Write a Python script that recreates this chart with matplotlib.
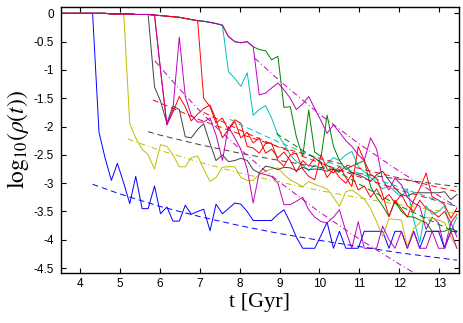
import matplotlib.pyplot as plt

plt.rcParams["mathtext.fontset"] = "stix"
plt.rcParams["axes.unicode_minus"] = False

# snapshot times (Gyr)
t = [3.55, 3.70, 3.86, 4.01, 4.17, 4.32, 4.48, 4.63, 4.79, 4.94,
     5.10, 5.25, 5.40, 5.56, 5.71, 5.87, 6.02, 6.18, 6.33, 6.49,
     6.64, 6.79, 6.95, 7.10, 7.26, 7.41, 7.57, 7.72, 7.88, 8.03,
     8.19, 8.34, 8.49, 8.65, 8.80, 8.96, 9.11, 9.27, 9.42, 9.58,
     9.73, 9.88, 10.04, 10.19, 10.35, 10.50, 10.66, 10.81, 10.97, 11.12,
     11.28, 11.43, 11.58, 11.74, 11.89, 12.05, 12.20, 12.36, 12.51, 12.67,
     12.82, 12.98, 13.13, 13.29, 13.44]

# shared early track (before each run drops)
top = [0, 0, 0, 0, 0, 0, 0, 0, -0.01, -0.01,
       -0.01, -0.01, -0.02, -0.02, -0.02, -0.03, -0.04, -0.05, -0.06, -0.07,
       -0.09, -0.11, -0.13, -0.14, -0.16, -0.18, -0.21, -0.41, -0.5, -0.52,
       -0.5, -0.59, -0.64, -0.66, -0.82, -0.76]

blue = top[:6] + [
    -2.1, -2.55, -2.95, -2.65, -3.0, -3.36, -2.88, -3.45, -3.45, -3.05,
    -3.54, -3.42, -3.67, -3.67, -3.39, -3.55, -3.5, -3.46, -3.84, -3.37,
    -3.54, -3.45, -3.35, -3.37, -3.5, -3.66, -3.66, -3.66, -3.66, -3.55,
    -3.47, -3.7, -3.95, -4.15, -4.15, -4.15, -3.92, -3.69, -4.15, -3.85,
    -4.15, -4.15, -4.15, -3.85, -3.85, -3.85, -3.85, -4.15, -3.85, -3.85,
    -4.15, -3.85, -4.15, -3.85, -3.85, -3.85, -4.15, -3.85, -3.85]

yellow = top[:11] + [
    -1.95, -2.2, -2.4, -2.5, -2.75,
    -2.32, -2.35, -2.5, -2.71, -2.71, -2.55, -2.52, -2.75, -2.97, -2.9,
    -2.72, -2.71, -2.71, -2.9, -2.95, -2.95, -2.85, -2.79, -2.75, -2.73,
    -2.85, -2.94, -3.0, -3.06, -2.97, -3.02, -3.06, -3.1, -3.25, -3.41,
    -3.15, -3.12, -3.2, -3.28, -3.45, -3.68, -3.94, -3.63, -3.64, -3.65,
    -4.12, -3.8, -3.7, -3.6, -3.62, -3.65, -3.7, -3.95, -4.15]

gray = top[:15] + [
    -1.3,
    -1.55, -1.94, -1.64, -1.7, -2.18, -2.2, -2.05, -1.95, -2.3, -2.6,
    -2.5, -2.62, -2.6, -2.56, -2.6, -2.76, -2.82, -2.7, -2.72, -2.76,
    -2.72, -2.73, -2.78, -2.72, -2.76, -2.75, -2.76, -2.79, -2.74, -2.8,
    -2.7, -2.82, -2.85, -2.9, -2.97, -2.85, -2.79, -2.95, -3.09, -3.2,
    -3.23, -3.17, -3.17, -3.17, -3.17, -3.17, -3.15, -3.29, -3.2]

magenta_a = top[:16] + [
    -1.0, -1.97, -1.7, -0.42, -1.47, -1.8, -1.92, -1.92, -1.85, -2.15,
    -2.6, -2.0, -2.2, -2.4, -2.75, -3.35, -2.82, -2.85, -2.88, -3.0,
    -3.38, -3.38, -3.32, -3.25, -3.47, -3.6, -3.68, -3.7, -3.6, -3.47,
    -3.85, -4.15, -3.68, -4.15, -4.15, -4.15, -3.76, -4.0, -4.15, -3.85,
    -4.15, -3.85, -4.15, -4.15, -3.85, -4.15, -4.15, -3.85, -4.15]

red_a = top[:16] + [
    -1.0, -1.97, -1.75, -1.47, -1.65, -1.9, -1.78, -1.68, -1.62, -1.88,
    -2.2, -2.05, -1.88, -1.94, -2.35, -2.38, -2.47, -2.3, -2.29, -2.6,
    -2.7, -2.5, -2.47, -2.75, -2.88, -2.94, -2.5, -2.75, -2.82, -2.7,
    -2.9, -3.06, -2.35, -2.6, -2.85, -2.91, -3.2, -3.59, -3.3, -3.45,
    -3.6, -3.3, -3.1, -2.82, -3.24, -3.3, -3.38, -3.62, -3.44]

red_b = top[:23] + [
    -1.5, -1.65, -1.94,
    -1.85, -2.06, -1.91, -2.2, -2.1, -2.29, -2.2, -2.47, -2.4, -2.55,
    -2.45, -2.6, -2.8, -2.6, -2.7, -2.55, -2.65, -2.9, -2.75, -2.9,
    -3.0, -2.85, -3.12, -3.05, -3.25, -3.1, -3.3, -3.2, -3.35, -3.2,
    -3.4, -3.5, -3.3, -3.45, -3.5, -3.6, -3.5, -3.7, -3.55]

cyan = top[:27] + [
    -1.03, -1.15, -1.29, -1.05, -1.8, -1.7, -1.63, -1.85, -2.15,
    -2.3, -2.5, -2.62, -2.68, -2.78, -2.68, -2.75, -2.65, -2.55, -2.6,
    -2.5, -2.44, -2.7, -2.8, -2.9, -3.0, -3.1, -3.05, -3.15, -3.24,
    -3.1, -3.65, -4.05, -3.4, -3.55, -3.5, -3.4, -3.85, -3.6]

green = top[:36] + [
    -1.66, -1.65, -2.18, -2.53, -1.71, -2.45, -2.53, -1.8, -2.35, -2.6,
    -2.76, -2.7, -2.65, -2.6, -3.06, -3.25, -3.4, -3.59, -3.32, -3.5,
    -3.59, -3.6, -3.65, -3.7, -3.85, -3.85, -3.85, -3.8, -3.85]

magenta_b = top[:31] + [
    -0.59, -1.44, -1.41, -1.32, -1.23,
    -1.35, -1.5, -1.7, -1.6, -1.47, -1.68, -1.9, -2.12, -1.97, -2.1,
    -2.25, -2.35, -2.5, -2.6, -2.2, -2.4, -2.94, -3.12, -2.91, -3.03,
    -3.25, -3.35, -3.41, -3.82, -3.6, -3.7, -4.15, -3.7, -3.95]

# fitted decay curves
fit_blue_t = [4.32, 5, 6, 7, 8, 9, 10, 11, 12, 13.44]
fit_blue = [-3.02, -3.19, -3.41, -3.59, -3.75, -3.89, -4.01, -4.12, -4.23, -4.36]
fit_yellow_t = [5.2, 6, 7, 8, 9, 10, 11, 12, 13.44]
fit_yellow = [-2.22, -2.42, -2.63, -2.82, -2.98, -3.13, -3.26, -3.38, -3.54]
fit_gray_t = [5.71, 6, 7, 8, 9, 10, 11, 12, 13.44]
fit_gray = [-2.09, -2.15, -2.32, -2.47, -2.60, -2.72, -2.83, -2.93, -3.06]
fit_magenta_a_t = [5.88, 6.0, 6.5, 7, 7.5, 8, 8.5, 9, 10, 11, 12, 12.5]
fit_magenta_a = [-0.84, -0.94, -1.34, -1.72, -2.07, -2.39, -2.70, -2.98,
                 -3.51, -3.99, -4.43, -4.64]
fit_red_a_t = [5.83, 7, 8, 9, 10, 11, 12, 13.44]
fit_red_a = [-1.53, -1.88, -2.13, -2.36, -2.56, -2.74, -2.91, -3.15]
fit_red_b_t = [7.1, 8, 9, 10, 11, 12, 13.44]
fit_red_b = [-1.75, -2.06, -2.37, -2.64, -2.89, -3.12, -3.41]
fit_cyan_t = [7.75, 8, 9, 10, 11, 12, 13.44]
fit_cyan = [-1.87, -1.96, -2.28, -2.57, -2.83, -3.07, -3.42]
fit_green_t = [8.92, 9, 10, 11, 12, 13.44]
fit_green = [-2.12, -2.16, -2.61, -3.02, -3.40, -3.88]
fit_magenta_b_t = [8.375, 9, 10, 11, 12, 13.44]
fit_magenta_b = [-0.79, -1.19, -1.78, -2.31, -2.79, -3.42]

C_BLUE = (0, 0, 1)
C_GREEN = (0, 0.5, 0)
C_RED = (1, 0, 0)
C_CYAN = (0, 0.75, 0.75)
C_MAGENTA = (0.75, 0, 0.75)
C_YELLOW = (0.75, 0.75, 0)
C_GRAY = (0.25, 0.25, 0.25)

DASH = (0, (6, 4))
DASHDOT = (0, (6, 3, 1, 3))


def main() -> None:
    fig = plt.figure(figsize=(4.63, 3.23), dpi=100)
    ax = fig.add_axes([0.131, 0.156, 0.861, 0.822])

    lw = 0.7
    runs = [
        (cyan, C_CYAN), (green, C_GREEN), (magenta_b, C_MAGENTA),
        (blue, C_BLUE), (yellow, C_YELLOW), (gray, C_GRAY),
        (red_b, C_RED), (red_a, C_RED), (magenta_a, C_MAGENTA),
    ]
    for y, c in runs:
        ax.plot(t, y, color=c, lw=lw)

    fits = [
        (fit_blue_t, fit_blue, C_BLUE, DASH),
        (fit_yellow_t, fit_yellow, C_YELLOW, DASHDOT),
        (fit_gray_t, fit_gray, C_GRAY, DASH),
        (fit_magenta_a_t, fit_magenta_a, C_MAGENTA, DASHDOT),
        (fit_red_a_t, fit_red_a, C_RED, DASH),
        (fit_red_b_t, fit_red_b, C_RED, DASH),
        (fit_cyan_t, fit_cyan, C_CYAN, DASH),
        (fit_green_t, fit_green, C_GREEN, DASH),
        (fit_magenta_b_t, fit_magenta_b, C_MAGENTA, DASHDOT),
    ]
    for ft, fy, c, ls in fits:
        ax.plot(ft, fy, color=c, lw=lw, linestyle=ls)

    ax.set_xlim(3.52, 13.5)
    ax.set_ylim(-4.58, 0.11)
    ax.set_xticks(range(4, 14))
    ax.set_yticks([-4.5, -4, -3.5, -3, -2.5, -2, -1.5, -1, -0.5, 0])
    ax.set_yticklabels(["-4.5", "-4", "-3.5", "-3", "-2.5", "-2", "-1.5",
                        "-1", "-0.5", "0"])
    ax.tick_params(direction="in", length=3.6, width=0.8, top=True,
                   right=True, labelsize=8.5)
    ax.tick_params(axis="x", pad=4)
    ax.tick_params(axis="y", pad=5)
    for lab in ax.get_xticklabels() + ax.get_yticklabels():
        lab.set_family("Liberation Sans")
    for s in ax.spines.values():
        s.set_linewidth(1.0)

    ax.set_xlabel("t [Gyr]", family="Liberation Serif", fontsize=16,
                  labelpad=2)
    ax.set_ylabel(r"$\mathrm{log}_{10}(\rho(t))$", fontsize=17, labelpad=2)

    fig.savefig("out.png", dpi=100)


if __name__ == "__main__":
    main()
